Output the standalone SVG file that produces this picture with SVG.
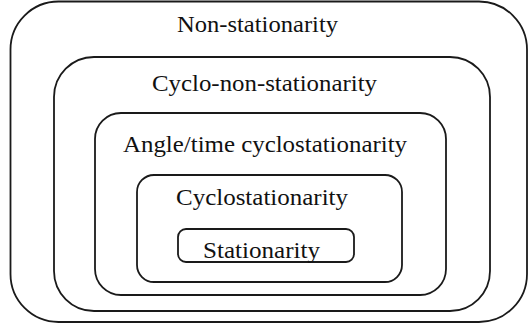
<svg xmlns="http://www.w3.org/2000/svg" width="529" height="327" viewBox="0 0 529 327">
<style>
.box{fill:none;stroke:#1a1a1a;stroke-width:1.8}
.lbl{font-family:'Liberation Serif','Times New Roman',serif;font-size:24px;fill:#111}
</style>
<rect width="529" height="327" fill="#fff"/>
<g id="non-stationarity">
<rect class="box" x="10.5" y="1.5" width="516.5" height="320.5" rx="48"/>
<text class="lbl" x="177" y="32" textLength="161" lengthAdjust="spacingAndGlyphs">Non-stationarity</text>
</g>
<g id="cyclo-non-stationarity">
<rect class="box" x="54" y="57" width="436" height="254" rx="40"/>
<text class="lbl" x="152" y="91" textLength="225" lengthAdjust="spacingAndGlyphs">Cyclo-non-stationarity</text>
</g>
<g id="angle-time-cyclostationarity">
<rect class="box" x="95" y="113" width="351" height="182" rx="26"/>
<text class="lbl" x="123" y="152" textLength="284" lengthAdjust="spacingAndGlyphs">Angle/time cyclostationarity</text>
</g>
<g id="cyclostationarity">
<rect class="box" x="137" y="175" width="265" height="107" rx="17"/>
<text class="lbl" x="176" y="205" textLength="172" lengthAdjust="spacingAndGlyphs">Cyclostationarity</text>
</g>
<g id="stationarity">
<rect class="box" x="178" y="229" width="176" height="33" rx="8"/>
<text class="lbl" x="203" y="258" textLength="117" lengthAdjust="spacingAndGlyphs">Stationarity</text>
</g>
<g id="connectors"/>
</svg>
